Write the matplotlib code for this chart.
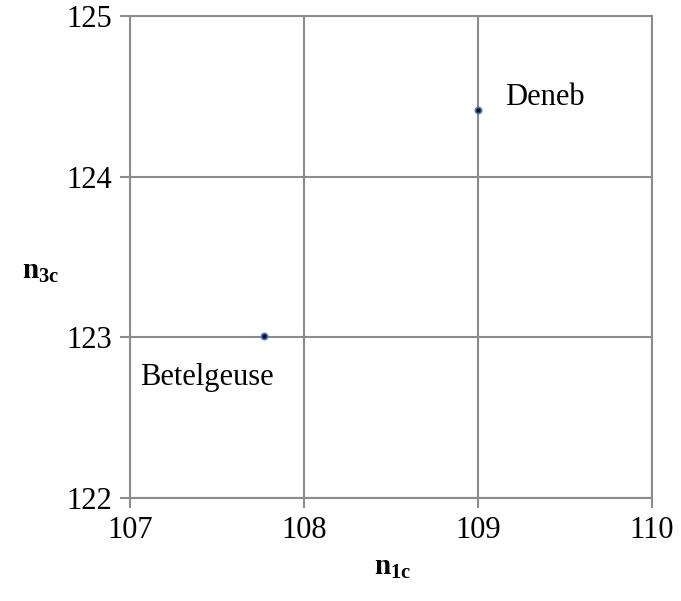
import matplotlib
matplotlib.use("Agg")
import matplotlib.pyplot as plt

plt.rcParams['font.family'] = ['Liberation Serif', 'DejaVu Serif']
plt.rcParams['mathtext.fontset'] = 'custom'
plt.rcParams['mathtext.rm'] = 'Liberation Serif'
plt.rcParams['mathtext.bf'] = 'Liberation Serif:bold'
plt.rcParams['mathtext.it'] = 'Liberation Serif:italic'

stars = ["Deneb", "Betelgeuse"]
n1c = [109.0, 107.77]
n3c = [124.415, 123.01]
label_x = [109.155, 107.057]
label_y = [124.49, 122.75]

xticks = [107, 108, 109, 110]
yticks = [122, 123, 124, 125]

grey = "#8c8c8c"

fig = plt.figure(figsize=(6.81, 6.01), dpi=100)
ax = fig.add_axes([130/681, 1-498/601, 522/681, 482/601])

ax.plot(n1c, n3c, linestyle="none", marker="o", markersize=4.5,
        markerfacecolor="#0a1030", markeredgecolor="#4a7ebb", markeredgewidth=1.2,
        zorder=3)

for name, tx, ty in zip(stars, label_x, label_y):
    ax.text(tx, ty, name, ha="left", va="center", fontsize=22)

ax.set_xlim(107, 110)
ax.set_ylim(122, 125)
ax.set_xticks(xticks)
ax.set_yticks(yticks)
ax.tick_params(axis="both", direction="out", length=7, width=1.5, color=grey,
               labelsize=22, pad=6)
ax.grid(True, color=grey, linewidth=1.5)
for s in ax.spines.values():
    s.set_color(grey)
    s.set_linewidth(1.5)
ax.set_axisbelow(True)

ax.set_xlabel(r"$\mathbf{n_{1c}}$", fontsize=21)
ax.xaxis.set_label_coords(0.504, -0.118)
ax.set_ylabel(r"$\mathbf{n_{3c}}$", fontsize=21, rotation=0, ha="center", va="center")
ax.yaxis.set_label_coords(-0.172, 0.469)

fig.savefig("out.png", dpi=100)
